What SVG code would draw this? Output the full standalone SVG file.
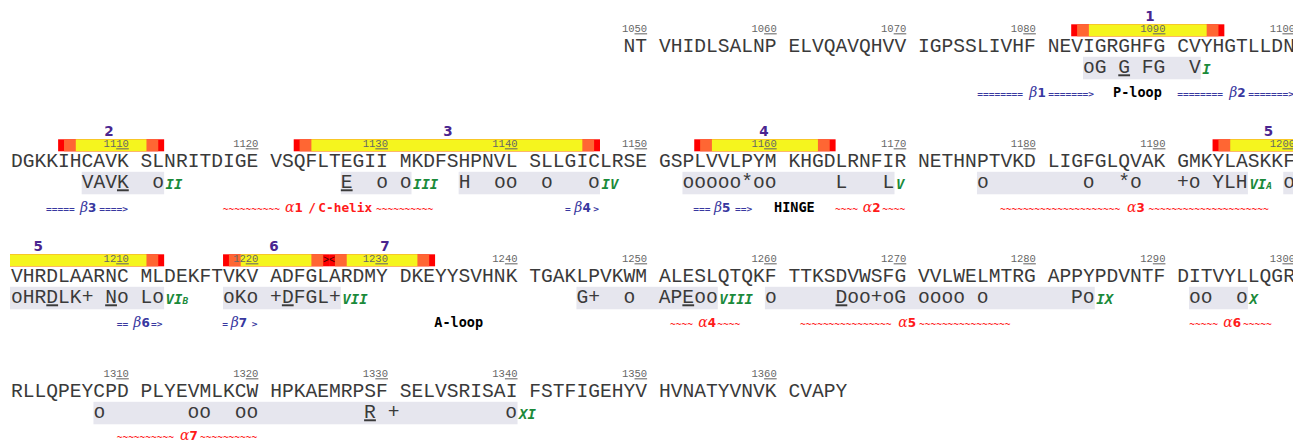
<svg xmlns="http://www.w3.org/2000/svg" width="1293" height="441" viewBox="0 0 1293 441">
<style>
.seq{font-family:"Liberation Mono",monospace;font-size:19.63px;fill:#3a3a3a}
.tick{font-family:"Liberation Mono",monospace;font-size:10.5px;fill:#666;text-anchor:end}
.box{fill:#e6e6ee}
.r{fill:#ff0000}.o{fill:#ff6633}.y{fill:#f5f51e}
.bn{font-family:"DejaVu Sans",sans-serif;font-weight:bold;font-size:13.5px;fill:#4a2590;text-anchor:middle}
.sd{font-family:"DejaVu Sans Mono",monospace;font-weight:bold;font-style:italic;font-size:14px;fill:#1a8a3a}
.sm{font-size:9.5px}
.lb{font-family:"DejaVu Sans Mono",monospace;font-weight:bold;font-size:9.5px}
.bl{fill:#3838a0}.rd{fill:#ff1a1a}
.gk{font-family:"DejaVu Serif",serif;font-style:italic;font-weight:normal;font-size:14px}
.dg{font-family:"DejaVu Sans",sans-serif;font-weight:bold;font-size:12px}
.kw{font-family:"DejaVu Sans Mono",monospace;font-weight:bold;font-size:13.5px;fill:#000}
.kwr{font-family:"DejaVu Sans Mono",monospace;font-weight:bold;font-size:12.8px}
.ov{font-family:"Liberation Mono",monospace;font-size:10px;fill:#400;text-anchor:middle}
</style>

<g id="row1">
<g id="bars1">
<rect class="r" x="1071.2" y="24.3" width="153.14" height="12"/>
<rect class="o" x="1077.09" y="24.3" width="141.36" height="12"/>
<rect class="y" x="1088.87" y="24.3" width="117.8" height="12"/>
<text class="bn" x="1150" y="20.8">1</text>
</g>
<g id="ticks1">
<text class="tick" x="647.12" y="32.3">10<tspan text-decoration="underline">50</tspan></text>
<text class="tick" x="776.7" y="32.3">10<tspan text-decoration="underline">60</tspan></text>
<text class="tick" x="906.28" y="32.3">10<tspan text-decoration="underline">70</tspan></text>
<text class="tick" x="1035.86" y="32.3">10<tspan text-decoration="underline">80</tspan></text>
<text class="tick" x="1165.44" y="32.3">10<tspan text-decoration="underline">90</tspan></text>
<text class="tick" x="1295.02" y="32.3">11<tspan text-decoration="underline">00</tspan></text>
</g>
<text class="seq" y="52.3"><tspan x="623.56">NT</tspan><tspan x="658.9">VHIDLSALNP</tspan><tspan x="788.48">ELVQAVQHVV</tspan><tspan x="918.06">IGPSSLIVHF</tspan><tspan x="1047.64">NEVIGRGHFG</tspan><tspan x="1177.22">CVYHGTLLDN</tspan></text>
<g id="motifs1">
<rect class="box" x="1082.98" y="56.8" width="117.8" height="22.5"/>
<text class="seq" xml:space="preserve" x="1082.98" y="73.3">oG <tspan text-decoration="underline">G</tspan> FG  V</text>
<text class="sd" x="1202.3" y="74.3">I</text>
</g>
<g id="labels1">
<text class="lb bl" y="97.3"><tspan x="977.3">========</tspan><tspan x="1029.3" class="gk">β</tspan><tspan class="dg">1</tspan><tspan x="1048.3">=======&gt;</tspan></text>
<text class="kw" x="1113" y="97.3">P-loop</text>
<text class="lb bl" y="97.3"><tspan x="1177.2">========</tspan><tspan x="1229.2" class="gk">β</tspan><tspan class="dg">2</tspan><tspan x="1248.2">=======&gt;</tspan></text>
</g>
</g>

<g id="row2">
<g id="bars2">
<rect class="r" x="58.12" y="139.3" width="106.02" height="12"/>
<rect class="o" x="64.01" y="139.3" width="94.24" height="12"/>
<rect class="y" x="75.79" y="139.3" width="70.68" height="12"/>
<rect class="r" x="293.72" y="139.3" width="306.28" height="12"/>
<rect class="o" x="299.61" y="139.3" width="294.5" height="12"/>
<rect class="y" x="311.39" y="139.3" width="270.94" height="12"/>
<rect class="r" x="694.24" y="139.3" width="141.36" height="12"/>
<rect class="o" x="700.13" y="139.3" width="129.58" height="12"/>
<rect class="y" x="711.91" y="139.3" width="106.02" height="12"/>
<rect class="r" x="1212.56" y="139.3" width="87.44" height="12"/>
<rect class="o" x="1218.45" y="139.3" width="81.55" height="12"/>
<rect class="y" x="1230.23" y="139.3" width="69.77" height="12"/>
<text class="bn" x="109" y="135.8">2</text>
<text class="bn" x="448" y="135.8">3</text>
<text class="bn" x="764" y="135.8">4</text>
<text class="bn" x="1268.5" y="135.8">5</text>
</g>
<g id="ticks2">
<text class="tick" x="128.8" y="147.3">11<tspan text-decoration="underline">10</tspan></text>
<text class="tick" x="258.38" y="147.3">11<tspan text-decoration="underline">20</tspan></text>
<text class="tick" x="387.96" y="147.3">11<tspan text-decoration="underline">30</tspan></text>
<text class="tick" x="517.54" y="147.3">11<tspan text-decoration="underline">40</tspan></text>
<text class="tick" x="647.12" y="147.3">11<tspan text-decoration="underline">50</tspan></text>
<text class="tick" x="776.7" y="147.3">11<tspan text-decoration="underline">60</tspan></text>
<text class="tick" x="906.28" y="147.3">11<tspan text-decoration="underline">70</tspan></text>
<text class="tick" x="1035.86" y="147.3">11<tspan text-decoration="underline">80</tspan></text>
<text class="tick" x="1165.44" y="147.3">11<tspan text-decoration="underline">90</tspan></text>
<text class="tick" x="1295.02" y="147.3">12<tspan text-decoration="underline">00</tspan></text>
</g>
<text class="seq" y="167.3"><tspan x="11">DGKKIHCAVK</tspan><tspan x="140.58">SLNRITDIGE</tspan><tspan x="270.16">VSQFLTEGII</tspan><tspan x="399.74">MKDFSHPNVL</tspan><tspan x="529.32">SLLGICLRSE</tspan><tspan x="658.9">GSPLVVLPYM</tspan><tspan x="788.48">KHGDLRNFIR</tspan><tspan x="918.06">NETHNPTVKD</tspan><tspan x="1047.64">LIGFGLQVAK</tspan><tspan x="1177.22">GMKYLASKKF</tspan></text>
<g id="motifs2">
<rect class="box" x="81.68" y="171.8" width="82.46" height="22.5"/>
<rect class="box" x="340.84" y="171.8" width="70.68" height="22.5"/>
<rect class="box" x="458.64" y="171.8" width="141.36" height="22.5"/>
<rect class="box" x="682.46" y="171.8" width="212.04" height="22.5"/>
<rect class="box" x="976.96" y="171.8" width="270.94" height="22.5"/>
<rect class="box" x="1283.24" y="171.8" width="20" height="22.5"/>
<text class="seq" xml:space="preserve" x="81.68" y="188.3">VAV<tspan text-decoration="underline">K</tspan>  o</text>
<text class="seq" xml:space="preserve" x="340.84" y="188.3"><tspan text-decoration="underline">E</tspan>  o o</text>
<text class="seq" xml:space="preserve" x="458.64" y="188.3">H  oo  o   o</text>
<text class="seq" xml:space="preserve" x="682.46" y="188.3">ooooo*oo     L   L</text>
<text class="seq" xml:space="preserve" x="976.96" y="188.3">o        o  *o   +o YLH</text>
<text class="seq" x="1283.24" y="188.3">o</text>
<text class="sd" x="165.6" y="189.3">II</text>
<text class="sd" x="413" y="189.3">III</text>
<text class="sd" x="601.5" y="189.3">IV</text>
<text class="sd" x="896" y="189.3">V</text>
<text class="sd" x="1249.4" y="189.3">VI<tspan class="sm">A</tspan></text>
</g>
<g id="labels2">
<text class="lb bl" y="212.3"><tspan x="46">=====</tspan><tspan x="80" class="gk">β</tspan><tspan class="dg">3</tspan><tspan x="99.3">====&gt;</tspan></text>
<text class="lb rd" y="212.3"><tspan x="222.7">~~~~~~~~~~</tspan><tspan x="285" class="gk">α</tspan><tspan class="dg">1</tspan><tspan x="308.3" class="kwr">/</tspan><tspan x="318.3" class="kwr">C-helix</tspan><tspan x="376">~~~~~~~~~~</tspan></text>
<text class="lb bl" y="212.3"><tspan x="565">=</tspan><tspan x="574.3" class="gk">β</tspan><tspan class="dg">4</tspan><tspan x="593.3">&gt;</tspan></text>
<text class="lb bl" y="212.3"><tspan x="693.3">===</tspan><tspan x="714" class="gk">β</tspan><tspan class="dg">5</tspan><tspan x="735">==&gt;</tspan></text>
<text class="kw" x="774" y="212.3">HINGE</text>
<text class="lb rd" y="212.3"><tspan x="835">~~~~</tspan><tspan x="862.7" class="gk">α</tspan><tspan class="dg">2</tspan><tspan x="882.3">~~~~</tspan></text>
<text class="lb rd" y="212.3"><tspan x="1000">~~~~~~~~~~~~~~~~~~~~~</tspan><tspan x="1127" class="gk">α</tspan><tspan class="dg">3</tspan><tspan x="1148.5">~~~~~~~~~~~~~~~~~~~~~</tspan></text>
</g>
</g>

<g id="row3">
<g id="bars3">
<rect class="r" x="10" y="254.3" width="154.14" height="12"/>
<rect class="o" x="10" y="254.3" width="148.25" height="12"/>
<rect class="y" x="10" y="254.3" width="136.47" height="12"/>
<rect class="r" x="223.04" y="254.3" width="106.02" height="12"/>
<rect class="o" x="228.93" y="254.3" width="94.24" height="12"/>
<rect class="y" x="240.71" y="254.3" width="70.68" height="12"/>
<rect class="r" x="329.06" y="254.3" width="106.02" height="12"/>
<rect class="o" x="334.95" y="254.3" width="94.24" height="12"/>
<rect class="y" x="346.73" y="254.3" width="70.68" height="12"/>
<text class="ov" x="329.06" y="263.3">&gt;&lt;</text>
<text class="bn" x="38.3" y="250.8">5</text>
<text class="bn" x="274" y="250.8">6</text>
<text class="bn" x="385" y="250.8">7</text>
</g>
<g id="ticks3">
<text class="tick" x="128.8" y="262.3">12<tspan text-decoration="underline">10</tspan></text>
<text class="tick" x="258.38" y="262.3">12<tspan text-decoration="underline">20</tspan></text>
<text class="tick" x="387.96" y="262.3">12<tspan text-decoration="underline">30</tspan></text>
<text class="tick" x="517.54" y="262.3">12<tspan text-decoration="underline">40</tspan></text>
<text class="tick" x="647.12" y="262.3">12<tspan text-decoration="underline">50</tspan></text>
<text class="tick" x="776.7" y="262.3">12<tspan text-decoration="underline">60</tspan></text>
<text class="tick" x="906.28" y="262.3">12<tspan text-decoration="underline">70</tspan></text>
<text class="tick" x="1035.86" y="262.3">12<tspan text-decoration="underline">80</tspan></text>
<text class="tick" x="1165.44" y="262.3">12<tspan text-decoration="underline">90</tspan></text>
<text class="tick" x="1295.02" y="262.3">13<tspan text-decoration="underline">00</tspan></text>
</g>
<text class="seq" y="282.3"><tspan x="11">VHRDLAARNC</tspan><tspan x="140.58">MLDEKFTVKV</tspan><tspan x="270.16">ADFGLARDMY</tspan><tspan x="399.74">DKEYYSVHNK</tspan><tspan x="529.32">TGAKLPVKWM</tspan><tspan x="658.9">ALESLQTQKF</tspan><tspan x="788.48">TTKSDVWSFG</tspan><tspan x="918.06">VVLWELMTRG</tspan><tspan x="1047.64">APPYPDVNTF</tspan><tspan x="1177.22">DITVYLLQGR</tspan></text>
<g id="motifs3">
<rect class="box" x="10" y="286.8" width="154.14" height="22.5"/>
<rect class="box" x="223.04" y="286.8" width="117.8" height="22.5"/>
<rect class="box" x="576.44" y="286.8" width="141.36" height="22.5"/>
<rect class="box" x="764.92" y="286.8" width="329.84" height="22.5"/>
<rect class="box" x="1189" y="286.8" width="58.9" height="22.5"/>
<text class="seq" xml:space="preserve" x="11" y="303.3">oHR<tspan text-decoration="underline">D</tspan>LK+ <tspan text-decoration="underline">N</tspan>o Lo</text>
<text class="seq" xml:space="preserve" x="223.04" y="303.3">oKo +<tspan text-decoration="underline">D</tspan>FGL+</text>
<text class="seq" xml:space="preserve" x="576.44" y="303.3">G+  o  AP<tspan text-decoration="underline">E</tspan>oo</text>
<text class="seq" xml:space="preserve" x="764.92" y="303.3">o     <tspan text-decoration="underline">D</tspan>oo+oG oooo o       Po</text>
<text class="seq" xml:space="preserve" x="1189" y="303.3">oo  o</text>
<text class="sd" x="165.6" y="304.3">VI<tspan class="sm">B</tspan></text>
<text class="sd" x="342.3" y="304.3">VII</text>
<text class="sd" x="719.3" y="304.3">VIII</text>
<text class="sd" x="1096.3" y="304.3">IX</text>
<text class="sd" x="1249.4" y="304.3">X</text>
</g>
<g id="labels3">
<text class="lb bl" y="327.3"><tspan x="116.7">==</tspan><tspan x="133.3" class="gk">β</tspan><tspan class="dg">6</tspan><tspan x="151">=&gt;</tspan></text>
<text class="lb bl" y="327.3"><tspan x="222.3">=</tspan><tspan x="230.7" class="gk">β</tspan><tspan class="dg">7</tspan><tspan x="251.7">&gt;</tspan></text>
<text class="kw" x="434.3" y="327.3">A-loop</text>
<text class="lb rd" y="327.3"><tspan x="670">~~~~</tspan><tspan x="698.3" class="gk">α</tspan><tspan class="dg">4</tspan><tspan x="717.3">~~~~</tspan></text>
<text class="lb rd" y="327.3"><tspan x="800">~~~~~~~~~~~~~~~~</tspan><tspan x="898.3" class="gk">α</tspan><tspan class="dg">5</tspan><tspan x="919">~~~~~~~~~~~~~~~~</tspan></text>
<text class="lb rd" y="327.3"><tspan x="1189.3">~~~~~</tspan><tspan x="1223.3" class="gk">α</tspan><tspan class="dg">6</tspan><tspan x="1243">~~~~~</tspan></text>
</g>
</g>

<g id="row4">
<g id="ticks4">
<text class="tick" x="128.8" y="377.3">13<tspan text-decoration="underline">10</tspan></text>
<text class="tick" x="258.38" y="377.3">13<tspan text-decoration="underline">20</tspan></text>
<text class="tick" x="387.96" y="377.3">13<tspan text-decoration="underline">30</tspan></text>
<text class="tick" x="517.54" y="377.3">13<tspan text-decoration="underline">40</tspan></text>
<text class="tick" x="647.12" y="377.3">13<tspan text-decoration="underline">50</tspan></text>
<text class="tick" x="776.7" y="377.3">13<tspan text-decoration="underline">60</tspan></text>
</g>
<text class="seq" y="397.3"><tspan x="11">RLLQPEYCPD</tspan><tspan x="140.58">PLYEVMLKCW</tspan><tspan x="270.16">HPKAEMRPSF</tspan><tspan x="399.74">SELVSRISAI</tspan><tspan x="529.32">FSTFIGEHYV</tspan><tspan x="658.9">HVNATYVNVK</tspan><tspan x="788.48">CVAPY</tspan></text>
<g id="motifs4">
<rect class="box" x="93.46" y="401.8" width="424.08" height="22.5"/>
<text class="seq" xml:space="preserve" x="93.46" y="418.3">o       oo  oo         <tspan text-decoration="underline">R</tspan> +         o</text>
<text class="sd" x="519" y="419.3">XI</text>
</g>
<g id="labels4">
<text class="lb rd" y="439.5"><tspan x="116.7">~~~~~~~~~~</tspan><tspan x="180" class="gk">α</tspan><tspan class="dg">7</tspan><tspan x="200">~~~~~~~~~~</tspan></text>
</g>
</g>
</svg>
